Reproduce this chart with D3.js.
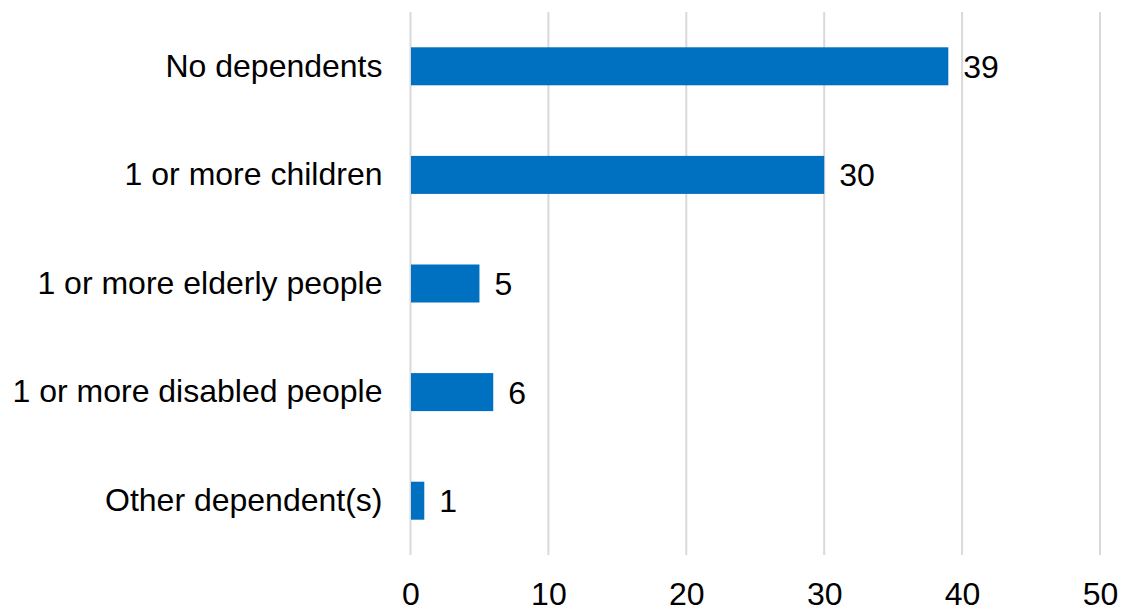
<!DOCTYPE html>
<html>
<head>
<meta charset="utf-8">
<script src="https://cdn.jsdelivr.net/npm/d3@7"></script>
<style>
  html, body { margin: 0; padding: 0; background: #fff; }
  svg { display: block; }
  text { font-family: "Liberation Sans", Arial, sans-serif; fill: #000; }
</style>
</head>
<body>
<svg id="chart" width="1122" height="610"></svg>
<script>
const categories = ["No dependents", "1 or more children", "1 or more elderly people", "1 or more disabled people", "Other dependent(s)"];
const values = [39, 30, 5, 6, 1];
const tickValues = [0, 10, 20, 30, 40, 50];

const svg = d3.select("#chart");
const x0 = 410.5, x1 = 1100, yTop = 12, yBot = 555;
const fs = 32;

const x = d3.scaleLinear().domain([0, 50]).range([x0, x1]);
const y = d3.scaleBand().domain(categories).range([yTop, yBot])
  .paddingInner(0.65).paddingOuter(0.325);

// gridlines
svg.append("g").selectAll("line").data(tickValues).join("line")
  .attr("x1", d => x(d)).attr("x2", d => x(d))
  .attr("y1", yTop).attr("y2", yBot)
  .attr("stroke", "#d9d9d9").attr("stroke-width", 2);

// bars
svg.append("g").selectAll("rect").data(values).join("rect")
  .attr("x", x(0) + 0.5)
  .attr("y", (d, i) => y(categories[i]))
  .attr("width", d => x(d) - x(0) - 0.5)
  .attr("height", y.bandwidth())
  .attr("fill", "#0070c0");

// value labels
svg.append("g").selectAll("text").data(values).join("text")
  .attr("x", d => x(d) + 15)
  .attr("y", (d, i) => y(categories[i]) + y.bandwidth() / 2)
  .attr("dy", "0.36em")
  .attr("font-size", fs)
  .text(d => d);

// category labels
const yAxis = d3.axisLeft(y).tickSize(0).tickPadding(0);
const gy = svg.append("g").attr("transform", `translate(${x0 - 28},0)`).call(yAxis);
gy.select(".domain").remove();
gy.selectAll("text").attr("font-size", fs).attr("font-family", '"Liberation Sans", Arial, sans-serif').attr("fill", "#000");

// x axis tick labels
const xAxis = d3.axisBottom(x).tickValues(tickValues).tickSize(0).tickPadding(0).tickFormat(d3.format("d"));
const gx = svg.append("g").attr("transform", `translate(0,582)`).call(xAxis);
gx.select(".domain").remove();
gx.selectAll("text").attr("font-size", fs).attr("font-family", '"Liberation Sans", Arial, sans-serif').attr("fill", "#000").attr("dy", "0.72em");
</script>
</body>
</html>
